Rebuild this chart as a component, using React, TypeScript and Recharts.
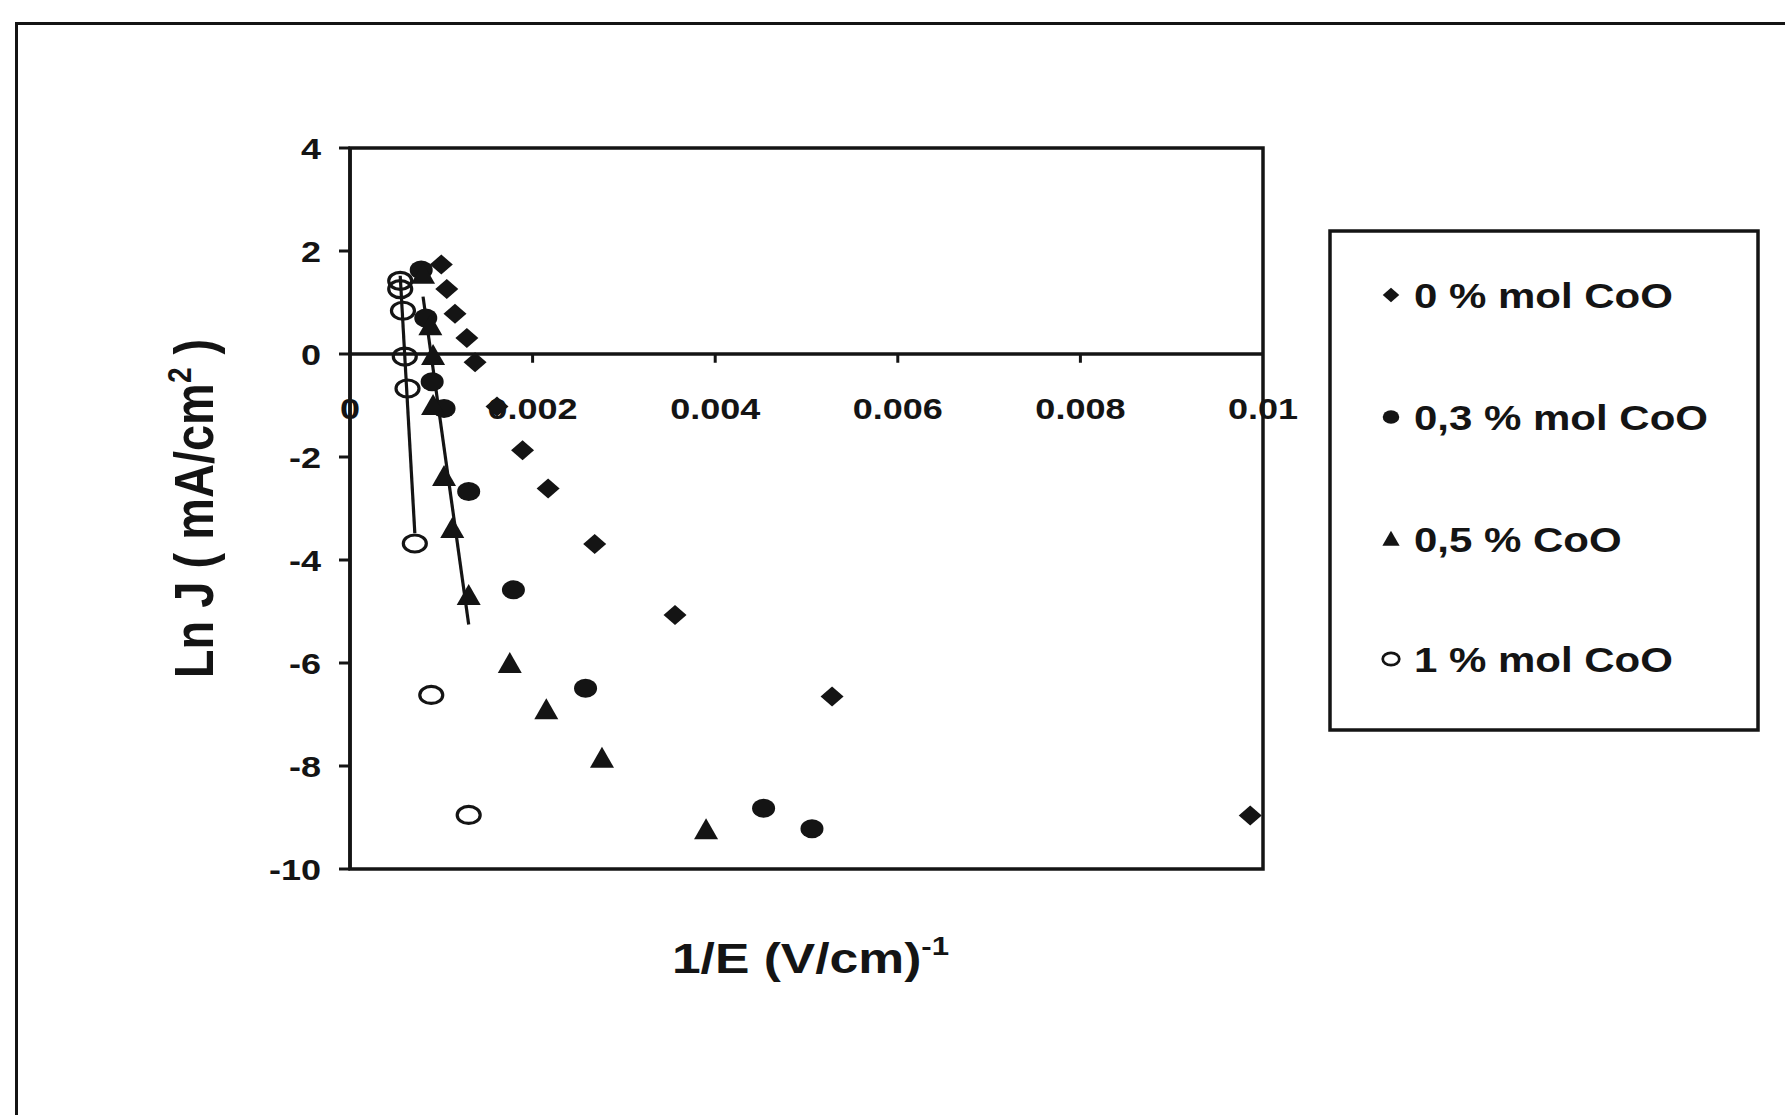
import React from 'react';
import { ScatterChart, Scatter, XAxis, YAxis, ReferenceLine, ReferenceArea, ReferenceDot } from 'recharts';

const FONT = "'Liberation Sans', Arial, Helvetica, sans-serif";
const INK = '#141414';
const SX = 1.2; // horizontal stretch of the scanned figure

// axis ticks
const xTickValues = [0, 0.002, 0.004, 0.006, 0.008, 0.01];
const xTickLabels = ['0', '0.002', '0.004', '0.006', '0.008', '0.01'];
const xMinorTicks = [0.002, 0.004, 0.006, 0.008];
const yTickValues = [-10, -8, -6, -4, -2, 0, 2, 4];

// series names
const seriesNames = ['0 % mol CoO', '0,3 % mol CoO', '0,5 % CoO', '1 % mol CoO'];

// 0 % mol CoO (diamonds)
const mol0X = [0.00100, 0.00106, 0.00115, 0.00128, 0.00137, 0.00161, 0.00189, 0.00217, 0.00268, 0.00356, 0.00528, 0.00986];
const mol0Y = [1.74, 1.26, 0.78, 0.31, -0.16, -1.02, -1.87, -2.61, -3.69, -5.07, -6.65, -8.96];

// 0,3 % mol CoO (filled circles)
const mol03X = [0.00078, 0.00083, 0.00090, 0.00103, 0.00130, 0.00179, 0.00258, 0.00453, 0.00506];
const mol03Y = [1.63, 0.70, -0.54, -1.06, -2.67, -4.58, -6.49, -8.82, -9.22];

// 0,5 % CoO (triangles)
const mol05X = [0.00080, 0.00088, 0.00091, 0.00091, 0.00103, 0.00112, 0.00130, 0.00175, 0.00215, 0.00276, 0.00390];
const mol05Y = [1.55, 0.55, -0.03, -1.00, -2.38, -3.39, -4.69, -6.01, -6.91, -7.85, -9.24];

// 1 % mol CoO (open circles)
const mol1X = [0.00055, 0.00055, 0.00058, 0.00060, 0.00063, 0.00071, 0.00089, 0.00130];
const mol1Y = [1.42, 1.26, 0.84, -0.05, -0.67, -3.68, -6.62, -8.95];

// number of leading points used by the linear trend lines
const fitCountMol05 = 7;
const fitCountMol1 = 6;

const pts = (xs: number[], ys: number[]) => xs.map((x, i) => ({ x, y: ys[i] }));

function trend(xs: number[], ys: number[], n: number) {
  const X = xs.slice(0, n);
  const Y = ys.slice(0, n);
  const mx = X.reduce((a, b) => a + b, 0) / n;
  const my = Y.reduce((a, b) => a + b, 0) / n;
  let sxx = 0;
  let sxy = 0;
  for (let i = 0; i < n; i++) {
    sxx += (X[i] - mx) * (X[i] - mx);
    sxy += (X[i] - mx) * (Y[i] - my);
  }
  const b = sxy / sxx;
  const a = my - b * mx;
  const lo = Math.min(...X);
  const hi = Math.max(...X);
  return [
    { x: lo, y: a + b * lo },
    { x: hi, y: a + b * hi },
  ];
}

const data0 = pts(mol0X, mol0Y);
const data03 = pts(mol03X, mol03Y);
const data05 = pts(mol05X, mol05Y);
const data1 = pts(mol1X, mol1Y);
const trend05 = trend(mol05X, mol05Y, fitCountMol05);
const trend1 = trend(mol1X, mol1Y, fitCountMol1);

// marker drawing helpers
const diamond = (cx: number, cy: number, k = 1) => (
  <polygon
    points={`${cx},${cy - 10 * k} ${cx + 11.5 * k},${cy} ${cx},${cy + 10 * k} ${cx - 11.5 * k},${cy}`}
    fill={INK}
  />
);
const dot = (cx: number, cy: number, k = 1) => <ellipse cx={cx} cy={cy} rx={11.5 * k} ry={9.5 * k} fill={INK} />;
const tri = (cx: number, cy: number, k = 1) => (
  <polygon
    points={`${cx},${cy - 11.5 * k} ${cx + 12 * k},${cy + 9.5 * k} ${cx - 12 * k},${cy + 9.5 * k}`}
    fill={INK}
  />
);
const ring = (cx: number, cy: number, k = 1) => (
  <ellipse cx={cx} cy={cy} rx={11.5 * k} ry={8.5 * k} fill="none" stroke={INK} strokeWidth={3.2 * Math.max(k, 0.85)} />
);

const markers = [diamond, dot, tri, ring];

const mkShape = (fn: (cx: number, cy: number, k?: number) => React.ReactElement) => (p: any) => {
  if (p == null || p.cx == null || p.cy == null) return <g />;
  return fn(p.cx, p.cy);
};
const NoShape = () => <g />;

const YTick = (props: any) => {
  const { x, y, payload } = props;
  return (
    <text
      transform={`translate(${x},${y}) scale(${SX},1)`}
      textAnchor="end"
      dy="0.36em"
      fontFamily={FONT}
      fontWeight={700}
      fontSize={30}
      fill={INK}
    >
      {payload.value}
    </text>
  );
};

const makeXTickLabel = (text: string) => (props: any) => {
  const vb = props.viewBox || {};
  const x = (vb.x || 0) + (vb.width || 0) / 2;
  const y = (vb.y || 0) + (vb.height || 0) / 2;
  return (
    <text
      transform={`translate(${x},${y + 65}) scale(${SX},1)`}
      textAnchor="middle"
      fontFamily={FONT}
      fontWeight={700}
      fontSize={30}
      fill={INK}
    >
      {text}
    </text>
  );
};

const XTitle = (props: any) => {
  const vb = props.viewBox || {};
  const x = (vb.x || 0) + (vb.width || 0) / 2 + 4;
  const y = (vb.y || 0) + 104;
  return (
    <text
      transform={`translate(${x},${y}) scale(${SX},1)`}
      textAnchor="middle"
      fontFamily={FONT}
      fontWeight={700}
      fontSize={43}
      fill={INK}
    >
      1/E (V/cm)
      <tspan fontSize={26} dy={-18}>-1</tspan>
    </text>
  );
};

const YTitle = (props: any) => {
  const vb = props.viewBox || {};
  const x = (vb.x || 0) + (vb.width || 0) - 157;
  const y = (vb.y || 0) + (vb.height || 0) / 2;
  return (
    <text
      transform={`translate(${x},${y}) scale(${SX},1) rotate(-90)`}
      textAnchor="middle"
      dy="0.36em"
      fontFamily={FONT}
      fontWeight={700}
      fontSize={47}
      fill={INK}
    >
      Ln J ( mA/cm
      <tspan fontSize={28} dy={-19}>2</tspan>
      <tspan dy={19}> )</tspan>
    </text>
  );
};

const legendRows = [295, 417, 539, 659];

const LegendBox = () => (
  <svg
    width={440}
    height={520}
    style={{ position: 'absolute', left: 1320, top: 221, overflow: 'visible' }}
  >
    <rect x={10} y={10} width={428} height={499} fill="#fff" stroke={INK} strokeWidth={3.5} />
    {seriesNames.map((name, i) => {
      const cy = legendRows[i] - 221;
      return (
        <g key={name}>
          {markers[i](71, cy, 0.72)}
          <text
            transform={`translate(94,${cy}) scale(${SX},1)`}
            dy="0.36em"
            fontFamily={FONT}
            fontWeight={700}
            fontSize={35}
            fill={INK}
          >
            {name}
          </text>
        </g>
      );
    })}
  </svg>
);

export default function App() {
  return (
    <div style={{ position: 'absolute', left: 0, top: 0, width: 1785, height: 1115, background: '#fff', overflow: 'hidden' }}>
      <div
        style={{
          position: 'absolute',
          left: 15,
          top: 22,
          width: 1770,
          height: 1093,
          borderTop: `3.5px solid ${INK}`,
          borderLeft: `3.5px solid ${INK}`,
          boxSizing: 'border-box',
        }}
      />
      <div style={{ position: 'absolute', left: 0, top: 0 }}>
        <ScatterChart width={1785} height={1115} margin={{ top: 148, right: 522, bottom: 216, left: 290 }}>
          <XAxis
            type="number"
            dataKey="x"
            domain={[0, 0.01]}
            allowDataOverflow
            tick={false}
            axisLine={false}
            tickLine={false}
            height={30}
            label={(p: any) => <XTitle {...p} />}
          />
          <YAxis
            type="number"
            dataKey="y"
            domain={[-10, 4]}
            ticks={yTickValues}
            allowDataOverflow
            width={60}
            tick={<YTick />}
            tickSize={11}
            tickMargin={18}
            axisLine={{ stroke: INK, strokeWidth: 3.5 }}
            tickLine={{ stroke: INK, strokeWidth: 3 }}
            label={(p: any) => <YTitle {...p} />}
          />
          <ReferenceArea
            x1={0}
            x2={0.01}
            y1={-10}
            y2={4}
            fill="none"
            fillOpacity={0}
            stroke={INK}
            strokeWidth={3.5}
            ifOverflow="visible"
          />
          <ReferenceLine y={0} stroke={INK} strokeWidth={3.5} ifOverflow="visible" />
          {xMinorTicks.map((t) => (
            <ReferenceLine
              key={`t${t}`}
              segment={[
                { x: t, y: 0 },
                { x: t, y: -0.17 },
              ]}
              stroke={INK}
              strokeWidth={3}
              ifOverflow="visible"
            />
          ))}
          {xTickValues.map((t, i) => (
            <ReferenceDot
              key={`l${t}`}
              x={t}
              y={0}
              r={0}
              fill="none"
              stroke="none"
              ifOverflow="visible"
              label={makeXTickLabel(xTickLabels[i])}
            />
          ))}
          <Scatter
            name="trend 1"
            data={trend1}
            line={{ stroke: INK, strokeWidth: 3.2 }}
            shape={NoShape}
            legendType="none"
            isAnimationActive={false}
          />
          <Scatter
            name="trend 0,5"
            data={trend05}
            line={{ stroke: INK, strokeWidth: 3.2 }}
            shape={NoShape}
            legendType="none"
            isAnimationActive={false}
          />
          <Scatter name={seriesNames[0]} data={data0} shape={mkShape(diamond)} isAnimationActive={false} />
          <Scatter name={seriesNames[1]} data={data03} shape={mkShape(dot)} isAnimationActive={false} />
          <Scatter name={seriesNames[2]} data={data05} shape={mkShape(tri)} isAnimationActive={false} />
          <Scatter name={seriesNames[3]} data={data1} shape={mkShape(ring)} isAnimationActive={false} />
        </ScatterChart>
      </div>
      <LegendBox />
    </div>
  );
}
